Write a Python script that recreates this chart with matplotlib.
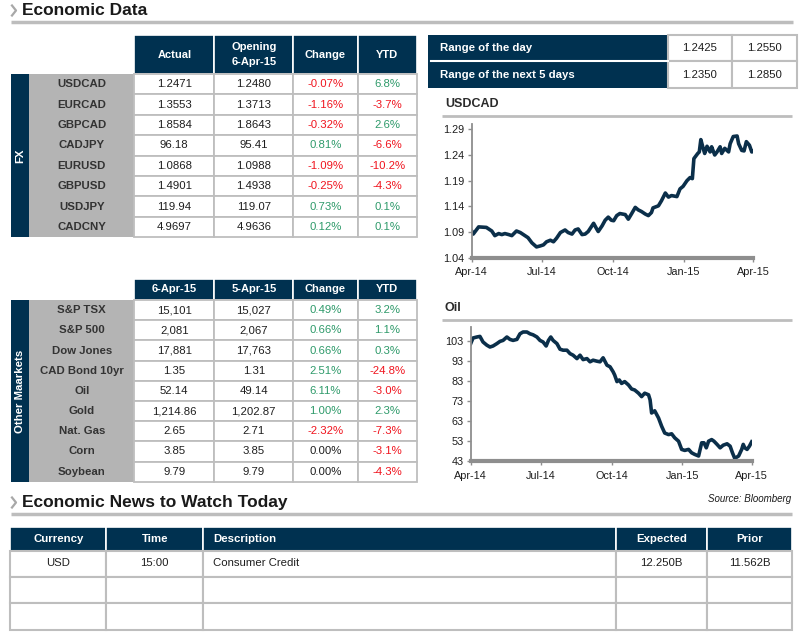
import matplotlib
matplotlib.use('Agg')
import matplotlib.pyplot as plt
import matplotlib.dates as mdates
from matplotlib.patches import Rectangle
import numpy as np

plt.rcParams['font.family'] = ['Liberation Sans', 'DejaVu Sans']

# ---- table data ----
fx_names = ['USDCAD', 'EURCAD', 'GBPCAD', 'CADJPY', 'EURUSD', 'GBPUSD', 'USDJPY', 'CADCNY']
fx_actual = ['1.2471', '1.3553', '1.8584', '96.18', '1.0868', '1.4901', '119.94', '4.9697']
fx_open = ['1.2480', '1.3713', '1.8643', '95.41', '1.0988', '1.4938', '119.07', '4.9636']
fx_change = [-0.07, -1.16, -0.32, 0.81, -1.09, -0.25, 0.73, 0.12]
fx_ytd = [6.8, -3.7, 2.6, -6.6, -10.2, -4.3, 0.1, 0.1]

mkt_names = ['S&P TSX', 'S&P 500', 'Dow Jones', 'CAD Bond 10yr', 'Oil', 'Gold', 'Nat. Gas', 'Corn', 'Soybean']
mkt_today = ['15,101', '2,081', '17,881', '1.35', '52.14', '1,214.86', '2.65', '3.85', '9.79']
mkt_prev = ['15,027', '2,067', '17,763', '1.31', '49.14', '1,202.87', '2.71', '3.85', '9.79']
mkt_change = [0.49, 0.66, 0.66, 2.51, 6.11, 1.00, -2.32, 0.00, 0.00]
mkt_ytd = [3.2, 1.1, 0.3, -24.8, -3.0, 2.3, -7.3, -3.1, -4.3]

range_labels = ['Range of the day', 'Range of the next 5 days']
range_low = ['1.2425', '1.2350']
range_high = ['1.2550', '1.2850']

news_cols = ['Currency', 'Time', 'Description', 'Expected', 'Prior']
news_rows = [['USD', '15:00', 'Consumer Credit', '12.250B', '11.562B'],
             ['', '', '', '', ''],
             ['', '', '', '', '']]

# ---- chart data ----
usdcad_dates = ['2014-04-01', '2014-04-03', '2014-04-10', '2014-04-20', '2014-04-23', '2014-04-27',
                '2014-05-01', '2014-05-06', '2014-05-10', '2014-05-14', '2014-05-19', '2014-05-23',
                '2014-05-29', '2014-06-03', '2014-06-09', '2014-06-13', '2014-06-18', '2014-06-24',
                '2014-06-29', '2014-07-03', '2014-07-07', '2014-07-12', '2014-07-16', '2014-07-20',
                '2014-07-25', '2014-07-31', '2014-08-04', '2014-08-09', '2014-08-13', '2014-08-17',
                '2014-08-22', '2014-08-26', '2014-08-30', '2014-09-06', '2014-09-10', '2014-09-12',
                '2014-09-17', '2014-09-21', '2014-09-25', '2014-09-29', '2014-10-02', '2014-10-06',
                '2014-10-10', '2014-10-17', '2014-10-21', '2014-10-25', '2014-10-30', '2014-11-03',
                '2014-11-07', '2014-11-12', '2014-11-16', '2014-11-20', '2014-11-22', '2014-11-29',
                '2014-12-03', '2014-12-08', '2014-12-12', '2014-12-16', '2014-12-23', '2014-12-27',
                '2014-12-31', '2015-01-05', '2015-01-09', '2015-01-12', '2015-01-14', '2015-01-19',
                '2015-01-21', '2015-01-23', '2015-01-26', '2015-01-28', '2015-01-31', '2015-02-04',
                '2015-02-06', '2015-02-10', '2015-02-13', '2015-02-17', '2015-02-19', '2015-02-23',
                '2015-02-28', '2015-03-02', '2015-03-06', '2015-03-11', '2015-03-13', '2015-03-17',
                '2015-03-20', '2015-03-23', '2015-03-27', '2015-03-30', '2015-04-01']
usdcad_values = [1.092, 1.086, 1.100, 1.099, 1.096, 1.092,
                 1.083, 1.087, 1.085, 1.087, 1.085, 1.083,
                 1.092, 1.089, 1.083, 1.079, 1.069, 1.061,
                 1.063, 1.065, 1.071, 1.074, 1.071, 1.078,
                 1.089, 1.094, 1.089, 1.086, 1.094, 1.096,
                 1.085, 1.086, 1.091, 1.107, 1.096, 1.091,
                 1.102, 1.113, 1.119, 1.113, 1.112, 1.122,
                 1.126, 1.124, 1.115, 1.125, 1.138, 1.133,
                 1.130, 1.125, 1.122, 1.128, 1.137, 1.141,
                 1.151, 1.166, 1.158, 1.161, 1.159, 1.174,
                 1.179, 1.190, 1.196, 1.194, 1.233, 1.243,
                 1.246, 1.270, 1.253, 1.243, 1.257, 1.246,
                 1.256, 1.240, 1.246, 1.256, 1.243, 1.253,
                 1.246, 1.262, 1.276, 1.277, 1.262, 1.249,
                 1.248, 1.266, 1.259, 1.246, 1.247]

oil_dates = ['2014-04-01', '2014-04-04', '2014-04-09', '2014-04-13', '2014-04-17', '2014-04-22',
             '2014-04-26', '2014-04-30', '2014-05-05', '2014-05-09', '2014-05-13', '2014-05-18',
             '2014-05-22', '2014-05-26', '2014-05-31', '2014-06-04', '2014-06-08', '2014-06-13',
             '2014-06-17', '2014-06-21', '2014-06-26', '2014-06-30', '2014-07-04', '2014-07-08',
             '2014-07-11', '2014-07-14', '2014-07-17', '2014-07-22', '2014-07-26', '2014-07-30',
             '2014-08-04', '2014-08-08', '2014-08-12', '2014-08-17', '2014-08-21', '2014-08-25',
             '2014-08-30', '2014-09-03', '2014-09-07', '2014-09-12', '2014-09-16', '2014-09-20',
             '2014-09-25', '2014-09-29', '2014-10-03', '2014-10-05', '2014-10-08', '2014-10-11',
             '2014-10-14', '2014-10-18', '2014-10-23', '2014-10-27', '2014-10-31', '2014-11-05',
             '2014-11-09', '2014-11-13', '2014-11-18', '2014-11-20', '2014-11-22', '2014-11-26',
             '2014-12-01', '2014-12-05', '2014-12-09', '2014-12-14', '2014-12-18', '2014-12-22',
             '2014-12-27', '2014-12-31', '2015-01-04', '2015-01-09', '2015-01-13', '2015-01-17',
             '2015-01-22', '2015-01-26', '2015-01-29', '2015-02-01', '2015-02-04', '2015-02-08',
             '2015-02-11', '2015-02-15', '2015-02-19', '2015-02-23', '2015-02-28', '2015-03-04',
             '2015-03-07', '2015-03-10', '2015-03-15', '2015-03-19', '2015-03-21', '2015-03-23',
             '2015-03-26', '2015-03-29', '2015-04-01']
oil_values = [101.7, 104.5, 105.0, 105.3, 102.5, 100.9,
              100.0, 100.5, 101.7, 102.8, 103.3, 105.0,
              103.8, 103.3, 103.8, 106.6, 107.5, 107.5,
              106.6, 106.1, 105.0, 103.3, 102.5, 100.5,
              103.3, 105.0, 103.3, 101.7, 98.9, 98.4,
              98.4, 96.7, 95.9, 94.2, 95.9, 93.7,
              94.2, 92.6, 93.4, 92.9, 92.6, 94.6,
              90.9, 90.1, 87.6, 86.0, 82.7, 83.5,
              81.8, 82.7, 81.0, 79.0, 78.5, 76.9,
              75.2, 76.9, 76.1, 73.6, 67.0, 68.1,
              64.5, 60.4, 57.0, 56.2, 56.6, 54.6,
              52.9, 48.8, 48.3, 48.8, 47.1, 46.3,
              45.5, 52.1, 52.1, 49.6, 52.9, 53.7,
              52.9, 51.3, 49.6, 50.9, 51.6, 50.4,
              47.1, 44.3, 45.5, 48.8, 51.3, 49.6,
              48.8, 50.4, 52.6]

NAVY = '#003150'
GREY_COL = '#B4B4B4'
BORDER = '#BEBEBE'
RED = '#F0141E'
GREEN = '#2E9A6A'
TXT = '#1E1E1E'

W, H = 804, 635
fig = plt.figure(figsize=(W / 100, H / 100), dpi=100)
bg = fig.add_axes([0, 0, 1, 1])
bg.set_xlim(0, W)
bg.set_ylim(H, 0)
bg.axis('off')


def rect(x0, y0, x1, y1, fc, ec='none', lw=0):
    bg.add_patch(Rectangle((x0, y0), x1 - x0, y1 - y0, facecolor=fc, edgecolor=ec, linewidth=lw))


def section_title(x, y, text, x_end):
    bg.plot([x - 10, x - 6, x - 10], [y - 5, y, y + 5], color='#A8A8A8', lw=1.6)
    bg.text(x, y, text, fontsize=12.5, fontweight='bold', color='#1A1A1A', va='center', ha='left')
    bg.plot([x - 11, x_end], [y + 11, y + 11], color='#BDBDBD', lw=2.5, solid_capstyle='butt')


def pct_color(v):
    if v > 0:
        return GREEN
    if v < 0:
        return RED
    return TXT


def data_table(top, hdr_bottom, row_h, band_label, headers, names, col1, col2, chg, ytd):
    cols = [134.3, 214.3, 293.3, 357.7, 416.7]
    # header
    for i in range(4):
        rect(cols[i], top, cols[i + 1], hdr_bottom, NAVY, 'white', 1.2)
        bg.text((cols[i] + cols[i + 1]) / 2, (top + hdr_bottom) / 2, headers[i], color='white',
                fontsize=8, fontweight='bold', ha='center', va='center', linespacing=1.6)
    n = len(names)
    bottom = hdr_bottom + n * row_h
    rect(11, hdr_bottom, 29.3, bottom, NAVY)
    bg.text(20, (hdr_bottom + bottom) / 2, band_label, rotation=90, color='white', fontsize=8.2,
            fontweight='bold', ha='center', va='center')
    rect(29.3, hdr_bottom, cols[0], bottom, GREY_COL)
    for r in range(n):
        y0 = hdr_bottom + r * row_h
        yc = y0 + row_h / 2
        bg.text(81.8, yc, names[r], color='#333333', fontsize=8.2, fontweight='bold', ha='center', va='center')
        vals = [col1[r], col2[r], '%.2f%%' % chg[r], '%.1f%%' % ytd[r]]
        colors = [TXT, TXT, pct_color(chg[r]), pct_color(ytd[r])]
        for i in range(4):
            rect(cols[i], y0, cols[i + 1], y0 + row_h, 'white', BORDER, 1.3)
            bg.text((cols[i] + cols[i + 1]) / 2, yc, vals[i], color=colors[i], fontsize=8.2,
                    ha='center', va='center')


section_title(22, 10.5, 'Economic Data', 793)

data_table(35, 74, 20.4, 'FX', ['Actual', 'Opening\n6-Apr-15', 'Change', 'YTD'],
           fx_names, fx_actual, fx_open, fx_change, fx_ytd)
data_table(278.5, 300, 20.2, 'Other Maarkets', ['6-Apr-15', '5-Apr-15', 'Change', 'YTD'],
           mkt_names, mkt_today, mkt_prev, mkt_change, mkt_ytd)

# range table
rect(428.3, 34.5, 668.5, 88, NAVY)
bg.plot([431, 668.5], [61, 61], color='white', lw=1.5)
rng_y = [34.5, 61, 88]
for r in range(2):
    yc = (rng_y[r] + rng_y[r + 1]) / 2
    bg.text(440.5, yc, range_labels[r], color='white', fontsize=8.2, fontweight='bold', ha='left', va='center')
    rect(668.5, rng_y[r], 732, rng_y[r + 1], 'white', BORDER, 1.5)
    rect(732, rng_y[r], 797, rng_y[r + 1], 'white', BORDER, 1.5)
    bg.text(700, yc, range_low[r], color=TXT, fontsize=8.2, ha='center', va='center')
    bg.text(764.5, yc, range_high[r], color=TXT, fontsize=8.2, ha='center', va='center')


def line_chart(title, title_y, rect_px, dates, values, ylim, yticks, yfmt):
    bg.text(445, title_y, title, fontsize=9, fontweight='bold', color='#2B2B2B', ha='left', va='center')
    bg.plot([441.7, 791.7], [title_y + 12, title_y + 12], color='#BDBDBD', lw=2, solid_capstyle='butt')
    x0, y0, x1, y1 = rect_px
    ax = fig.add_axes([x0 / W, 1 - y1 / H, (x1 - x0) / W, (y1 - y0) / H])
    d = np.array(dates, dtype='datetime64[D]')
    ax.plot(d, values, color='#0B2F4A', lw=2.6, solid_joinstyle='round')
    ax.set_xlim(np.datetime64('2014-04-01'), np.datetime64('2015-04-01'))
    ax.set_ylim(*ylim)
    ax.set_yticks(yticks)
    ax.yaxis.set_major_formatter(plt.FormatStrFormatter(yfmt))
    ax.xaxis.set_major_locator(mdates.MonthLocator(bymonth=[1, 4, 7, 10]))
    ax.xaxis.set_major_formatter(mdates.DateFormatter('%b-%y'))
    for s in ['top', 'right']:
        ax.spines[s].set_visible(False)
    ax.spines['left'].set_color('#8E8E8E')
    ax.spines['left'].set_linewidth(1.3)
    ax.spines['bottom'].set_color('#8E8E8E')
    ax.spines['bottom'].set_linewidth(3)
    ax.tick_params(axis='both', colors='#8E8E8E', labelcolor='#1E1E1E', labelsize=7.8, length=3, width=1)
    ax.tick_params(axis='x', pad=4)
    ax.tick_params(axis='y', pad=2)
    ax.patch.set_alpha(0)
    ax.margins(0)
    return ax


line_chart('USDCAD', 104, (471.7, 124.2, 753.3, 257.7), usdcad_dates, usdcad_values,
           (1.04, 1.30), [1.04, 1.09, 1.14, 1.19, 1.24, 1.29], '%.2f')
line_chart('Oil', 308.3, (470.7, 327, 751.7, 461), oil_dates, oil_values,
           (43, 110), [43, 53, 63, 73, 83, 93, 103], '%d')

bg.text(791, 499.5, 'Source: Bloomberg', fontsize=7, style='italic', color='#1A1A1A', ha='right', va='center')

# news table
section_title(22, 502.5, 'Economic News to Watch Today', 792)
ncols = [10.5, 106.5, 203, 616, 707, 792]
nrows = [526.5, 550.5, 576.5, 603, 629.5]
for i in range(5):
    rect(ncols[i], nrows[0], ncols[i + 1], nrows[1], NAVY, 'white', 1.2)
    if i == 2:
        bg.text(ncols[i] + 10, (nrows[0] + nrows[1]) / 2, news_cols[i], color='white', fontsize=8.2,
                fontweight='bold', ha='left', va='center')
    else:
        bg.text((ncols[i] + ncols[i + 1]) / 2, (nrows[0] + nrows[1]) / 2, news_cols[i], color='white',
                fontsize=8.2, fontweight='bold', ha='center', va='center')
for r, row in enumerate(news_rows):
    y0, y1 = nrows[r + 1], nrows[r + 2]
    for i in range(5):
        rect(ncols[i], y0, ncols[i + 1], y1, 'white', BORDER, 1.5)
        if i == 2:
            bg.text(ncols[i] + 10, (y0 + y1) / 2, row[i], color=TXT, fontsize=8.2, ha='left', va='center')
        else:
            bg.text((ncols[i] + ncols[i + 1]) / 2, (y0 + y1) / 2, row[i], color=TXT, fontsize=8.2,
                    ha='center', va='center')

fig.savefig('out.png', dpi=100)
